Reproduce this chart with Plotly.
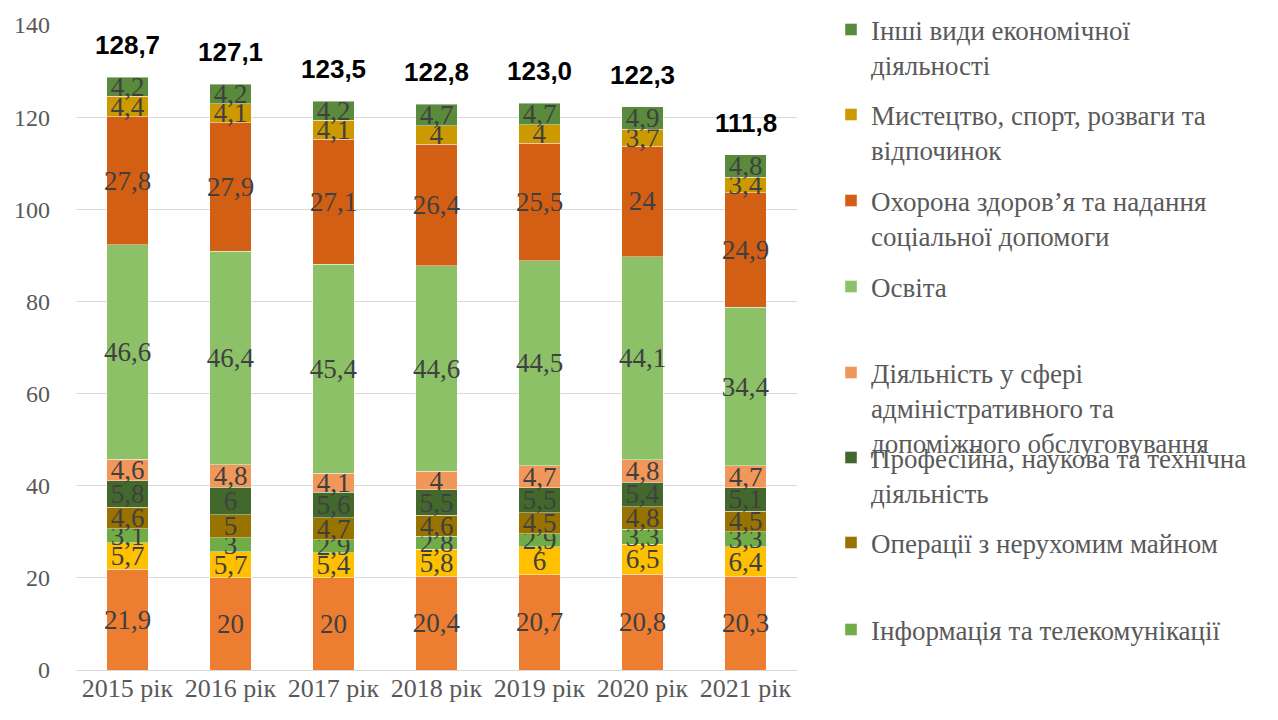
import plotly.graph_objects as go

years = ["2015 рік", "2016 рік", "2017 рік", "2018 рік", "2019 рік", "2020 рік", "2021 рік"]

# series, bottom to top
transport = [21.9, 20, 20, 20.4, 20.7, 20.8, 20.3]
accommodation = [5.7, 5.7, 5.4, 5.8, 6, 6.5, 6.4]
info = [3.1, 3, 2.9, 2.8, 2.9, 3.3, 3.3]
real_estate = [4.6, 5, 4.7, 4.6, 4.5, 4.8, 4.5]
professional = [5.8, 6, 5.6, 5.5, 5.5, 5.4, 5.1]
admin = [4.6, 4.8, 4.1, 4, 4.7, 4.8, 4.7]
education = [46.6, 46.4, 45.4, 44.6, 44.5, 44.1, 34.4]
health = [27.8, 27.9, 27.1, 26.4, 25.5, 24, 24.9]
arts = [4.4, 4.1, 4.1, 4, 4, 3.7, 3.4]
other = [4.2, 4.2, 4.2, 4.7, 4.7, 4.9, 4.8]

series = [
    ("Транспорт, складське господарство, поштова та кур’єрська діяльність", transport, "#ED7D31", False),
    ("Тимчасове розміщування й організація харчування", accommodation, "#FFC000", False),
    ("Інформація та телекомунікації", info, "#70AD47", True),
    ("Операції з нерухомим майном", real_estate, "#997300", True),
    ("Професійна, наукова та технічна<br>діяльність", professional, "#43682B", True),
    ("Діяльність у сфері<br>адміністративного та<br>допоміжного обслуговування", admin, "#F1975A", True),
    ("Освіта", education, "#8CC168", True),
    ("Охорона здоров’я та надання<br>соціальної допомоги", health, "#D35F15", True),
    ("Мистецтво, спорт, розваги та<br>відпочинок", arts, "#CC9A00", True),
    ("Інші види економічної<br>діяльності", other, "#5A8A3C", True),
]

# legend marker centres (px from top), top item first
legend_rows = [30, 115, 201, 287, 373, 458, 543, 630]

SERIF = "Times New Roman, Liberation Serif, DejaVu Serif, serif"

def fmt(v):
    return f"{v:g}".replace(".", ",")

fig = go.Figure()
legend_names = [s for s in series if s[3]][::-1]
legend_index = {s[0]: i for i, s in enumerate(legend_names)}

for name, vals, color, show in series:
    kw = {}
    if show:
        i = legend_index[name]
        kw["legend"] = "legend" if i == 0 else f"legend{i+1}"
    fig.add_trace(go.Bar(
        x=years, y=vals, name=name, marker_color=color,
        marker_line=dict(width=0.6, color="rgba(255,255,255,0.7)"),
        text=[fmt(v) for v in vals], textposition="inside",
        insidetextanchor="middle", constraintext="none", textangle=0,
        textfont=dict(family=SERIF, size=27, color="#404040"),
        showlegend=show, **kw,
    ))

totals = [round(sum(s[1][i] for s in series), 1) for i in range(len(years))]
for x, t in zip(years, totals):
    fig.add_annotation(x=x, y=t, text=f"<b>{t:.1f}</b>".replace(".", ","),
                       showarrow=False, yanchor="bottom", yshift=15,
                       font=dict(family="Liberation Sans, Arial, sans-serif", size=26, color="#000000"))

legend_font = dict(family=SERIF, size=27, color="#595959")
layout_legends = {}
for i, yc in enumerate(legend_rows):
    key = "legend" if i == 0 else f"legend{i+1}"
    layout_legends[key] = dict(
        xref="container", yref="container", x=831 / 1278, y=1 - (yc - 24.5) / 720,
        xanchor="left", yanchor="top", valign="top", font=legend_font,
        bgcolor="rgba(0,0,0,0)", borderwidth=0,
    )

fig.update_layout(
    barmode="stack", bargap=0.6,
    width=1278, height=720,
    margin=dict(l=76, r=481, t=22, b=50),
    paper_bgcolor="white", plot_bgcolor="white",
    font=dict(family=SERIF, color="#595959"),
    xaxis=dict(tickfont=dict(family=SERIF, size=26, color="#595959"),
               showgrid=False, showline=False, ticks=""),
    yaxis=dict(range=[0, 140], dtick=20, showgrid=True, gridcolor="#D9D9D9", gridwidth=1.3,
               zeroline=True, zerolinecolor="#D9D9D9", zerolinewidth=1.3,
               tickfont=dict(family=SERIF, size=24, color="#595959"),
               ticks="", ticklabelstandoff=25),
    **layout_legends,
)

fig.write_html("out.html", config={"displayModeBar": False},
               post_script="document.body.style.margin='0';document.body.style.padding='0';")
